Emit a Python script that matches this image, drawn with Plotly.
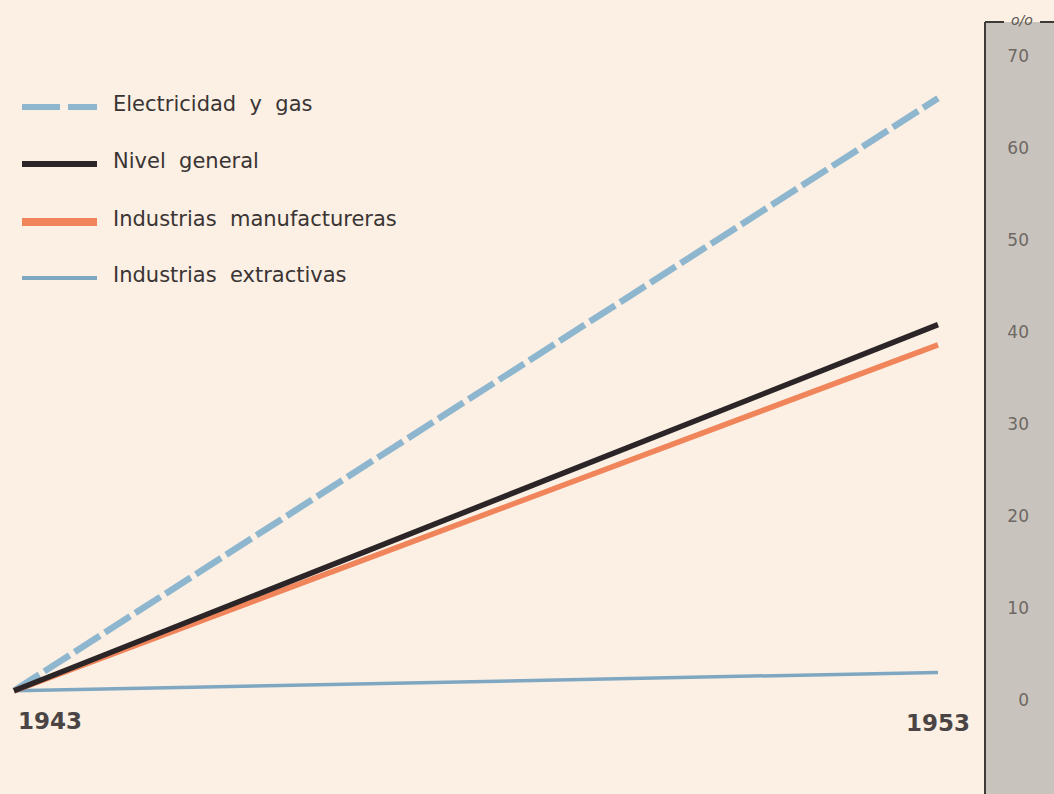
import plotly.graph_objects as go

W, H = 1054, 794

years = [1943, 1953]
electricidad = [1, 65.4]
nivel_general = [1, 40.8]
manufactureras = [1, 38.6]
extractivas = [1, 3.0]

y_ticks = [0, 10, 20, 30, 40, 50, 60, 70]

series = [
    ("Electricidad y gas", electricidad, "#8FB6CF", 6.5, "30px,6px"),
    ("Industrias extractivas", extractivas, "#7FA7C2", 3.5, "solid"),
    ("Industrias manufactureras", manufactureras, "#F0845A", 5.5, "solid"),
    ("Nivel general", nivel_general, "#2B2527", 5.5, "solid"),
]

FONT = "DejaVu Sans"

fig = go.Figure()
for name, vals, color, width, dash in series:
    fig.add_trace(go.Scatter(
        x=years, y=vals, name=name, mode="lines",
        line=dict(color=color, width=width, dash=dash),
        showlegend=False,
    ))


def px_x(p):
    return p / W


def px_y(p):
    return 1 - p / H


shapes = [
    # grey scale panel on the right
    dict(type="rect", xref="paper", yref="paper", x0=px_x(985), x1=1.0,
         y0=0, y1=px_y(22), fillcolor="#C9C3BD", line=dict(width=0), layer="below"),
    dict(type="line", xref="paper", yref="paper", x0=px_x(985), x1=px_x(985),
         y0=0, y1=px_y(22), line=dict(color="#3E3A38", width=2)),
    dict(type="line", xref="paper", yref="paper", x0=px_x(985), x1=px_x(1004),
         y0=px_y(22), y1=px_y(22), line=dict(color="#3E3A38", width=2)),
    dict(type="line", xref="paper", yref="paper", x0=px_x(1040), x1=1.0,
         y0=px_y(22), y1=px_y(22), line=dict(color="#3E3A38", width=2)),
]

# hand-drawn legend
legend_rows = [
    ("Electricidad  y  gas", "#8FB6CF", 6, [(22, 60), (68, 97)], 107),
    ("Nivel  general", "#2B2527", 6, [(22, 97)], 164),
    ("Industrias  manufactureras", "#F0845A", 8, [(22, 97)], 222),
    ("Industrias  extractivas", "#7FA7C2", 4, [(22, 97)], 278),
]
annotations = []
for label, color, width, segs, ypx in legend_rows:
    for a, b in segs:
        shapes.append(dict(type="line", xref="paper", yref="paper",
                           x0=px_x(a), x1=px_x(b), y0=px_y(ypx), y1=px_y(ypx),
                           line=dict(color=color, width=width)))
    annotations.append(dict(text=label, xref="paper", yref="paper",
                            x=px_x(111), y=px_y(ypx - 3), xanchor="left", yanchor="middle",
                            showarrow=False,
                            font=dict(size=21, color="#3A3434", family=FONT)))

annotations += [
    dict(text="<b>1943</b>", xref="paper", yref="paper", x=px_x(16), y=px_y(721),
         xanchor="left", yanchor="middle", showarrow=False,
         font=dict(size=23, color="#4A4444", family=FONT)),
    dict(text="<b>1953</b>", xref="paper", yref="paper", x=px_x(972), y=px_y(723),
         xanchor="right", yanchor="middle", showarrow=False,
         font=dict(size=23, color="#4A4444", family=FONT)),
    dict(text="<i>o/o</i>", xref="paper", yref="paper", x=px_x(1022), y=px_y(20),
         xanchor="center", yanchor="middle", showarrow=False,
         font=dict(size=14, color="#5A5552", family=FONT)),
]

fig.update_layout(
    width=W, height=H,
    margin=dict(l=0, r=0, t=0, b=0),
    paper_bgcolor="#FBF0E3",
    plot_bgcolor="rgba(0,0,0,0)",
    shapes=shapes,
    annotations=annotations,
    xaxis=dict(range=[1943 - 14 / 92.4, 1943 + 1040 / 92.4], visible=False),
    yaxis=dict(
        range=[-94 / 9.2, 700 / 9.2],
        side="right",
        tickvals=y_ticks,
        ticklabelposition="inside",
        ticklabelstandoff=22,
        showgrid=False, zeroline=False, showline=False,
        tickfont=dict(size=17, color="#6E6863", family=FONT),
    ),
)

fig.write_html(
    "out.html",
    config={"displayModeBar": False},
    post_script="document.body.style.margin='0';document.body.style.overflow='hidden';",
)
